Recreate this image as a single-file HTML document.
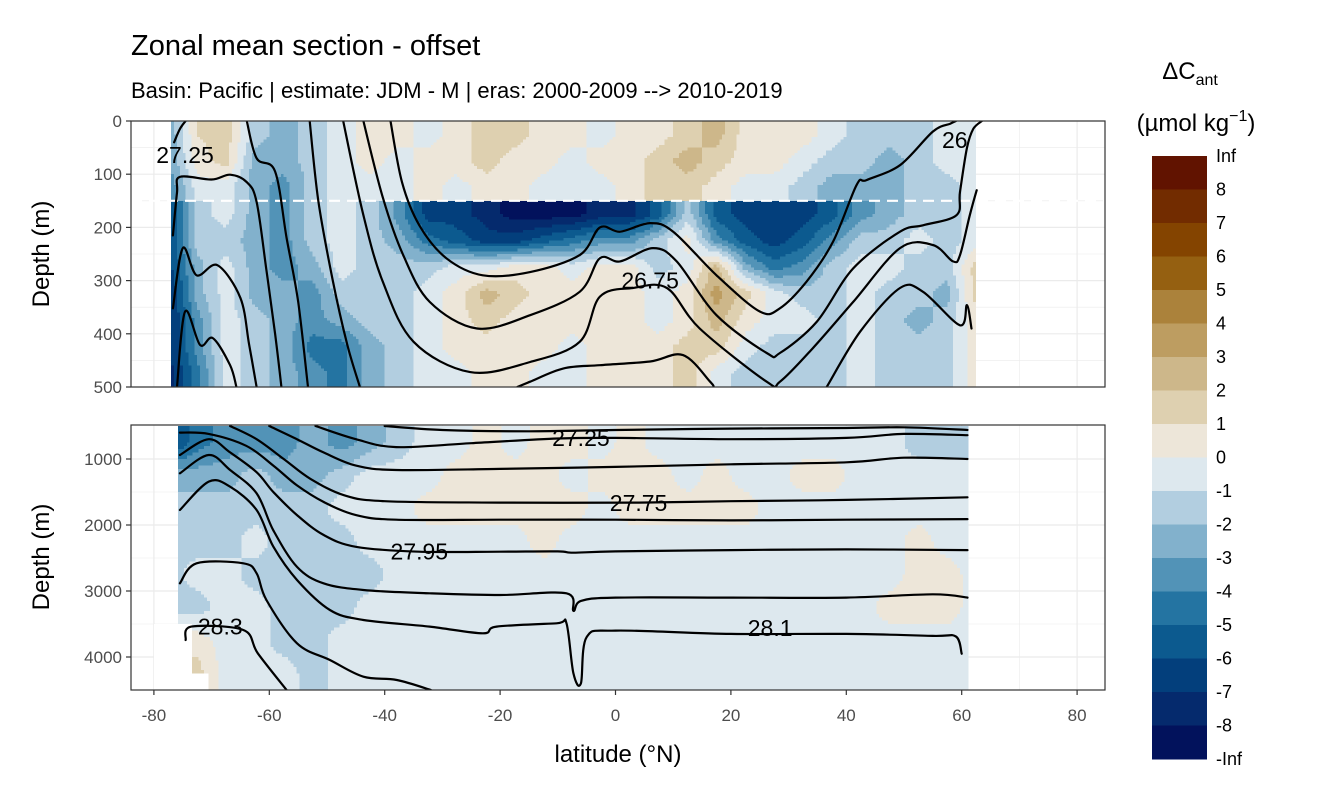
<!DOCTYPE html>
<html><head><meta charset="utf-8">
<style>
html,body{margin:0;padding:0;background:#fff;}
svg{display:block;font-family:"Liberation Sans",Arial,sans-serif;}
</style></head>
<body>
<svg id="chart" width="1344" height="806" viewBox="0 0 1344 806" xmlns="http://www.w3.org/2000/svg">
<defs>
<clipPath id="clipTop"><rect x="131" y="121" width="974" height="266"/></clipPath>
<clipPath id="clipBot"><rect x="131" y="425" width="974" height="265"/></clipPath>
</defs>
<text x="131" y="55" font-size="29" fill="#000">Zonal mean section - offset</text>
<text x="131" y="98" font-size="22" fill="#000">Basin: Pacific | estimate: JDM - M | eras: 2000-2009 --&gt; 2010-2019</text>
<g id="panels"></g>
<text x="618" y="762" font-size="24" text-anchor="middle">latitude (°N)</text>
<text transform="translate(49,254) rotate(-90)" font-size="24" text-anchor="middle">Depth (m)</text>
<text transform="translate(49,557) rotate(-90)" font-size="24" text-anchor="middle">Depth (m)</text>
<g>
<text x="1190" y="79" font-size="24" text-anchor="middle">ΔC<tspan font-size="16" dy="6">ant</tspan></text>
<text x="1196" y="131" font-size="24" text-anchor="middle">(µmol kg<tspan font-size="16" dy="-10">−1</tspan><tspan dy="10">)</tspan></text>
<g id="legendBar"></g>
</g>
</svg>
<script>
// ---------- data ----------
const legendLabels = ["Inf","8","7","6","5","4","3","2","1","0","-1","-2","-3","-4","-5","-6","-7","-8","-Inf"];
const binColors = ["#611300","#722c00","#844400","#956011","#ab823b","#bd9d61","#cdb78a","#ded0b0","#ede6d9","#dde8ee","#b2cee0","#82b1cc","#5293b7","#2474a2","#0c5a8f","#033f7c","#052a6d","#02125c"];
const xTicks = [-80,-60,-40,-20,0,20,40,60,80];
const topYTicks = [0,100,200,300,400,500];
const botYTicks = [1000,2000,3000,4000];
const gridLats = [-77.5,-72.5,-67.5,-62.5,-57.5,-52.5,-47.5,-42.5,-37.5,-32.5,-27.5,-22.5,-17.5,-12.5,-7.5,-2.5,2.5,7.5,12.5,17.5,22.5,27.5,32.5,37.5,42.5,47.5,52.5,57.5,62.5];
const topDepths = [25,75,125,175,225,275,325,375,425,475];
const topVals = [
[-3,1,1.5,-1.5,-2.5,-1.5,-0.5,0.5,0.5,-0.5,0.5,1.5,1.5,0.5,0.5,-0.5,0.5,0.5,1.5,2.5,0.5,0.5,0.5,-0.5,-1.5,-1.5,-1.5,-0.5,-0.5],
[-3,0.5,1.5,-2.5,-2.5,-1.5,-0.5,0.5,-0.5,0.5,0.5,1.5,0.5,0.5,-0.5,0.5,0.5,1.5,2.5,1.5,0.5,0.5,-0.5,-1.5,-1.5,-2.5,-1.5,-0.5,-0.5],
[-4,-0.5,-0.5,-2.5,-3.5,-1.5,-0.5,-0.5,-0.5,0.5,-0.5,0.5,0.5,-0.5,-0.5,-0.5,0.5,1.5,1.5,0.5,-0.5,-0.5,-1.5,-2.5,-2.5,-2.5,-1.5,-1.5,-0.5],
[-6.5,-1.5,-0.5,-2.5,-3.5,-1.5,-0.5,-1.5,-3.5,-6.5,-6.5,-7.5,-8.5,-8.5,-8.5,-7.5,-7.5,-5.5,-1.5,-5.5,-6.5,-6.5,-6.5,-5.5,-3.5,-2.5,-1.5,-1.5,-0.5],
[-6.5,-1.5,-1.5,-2.5,-3.5,-1.5,-0.5,-1.5,-2.5,-4.5,-5.5,-6.5,-6.5,-5.5,-4.5,-3.5,-3.5,-1.5,0.5,-3.5,-5.5,-6.5,-5.5,-3.5,-1.5,-1.5,-0.5,-1.5,-0.5],
[-6.5,-2.5,-0.5,-2.5,-3.5,-2.5,-0.5,-1.5,-1.5,-1.5,-0.5,-0.5,0.5,0.5,-0.5,0.5,0.5,-1.5,-0.5,2.5,-2.5,-4.5,-3.5,-1.5,-0.5,-0.5,-1.5,-1.5,1.5],
[-7.5,-2.5,-0.5,-2.5,-2.5,-3.5,-1.5,-1.5,-1.5,-0.5,0.5,2.5,1.5,0.5,0.5,0.5,0.5,-0.5,0.5,3.5,1.5,-0.5,-1.5,-1.5,-0.5,-1.5,-1.5,-2.5,1.5],
[-7.5,-3.5,-0.5,-1.5,-2.5,-3.5,-2.5,-1.5,-1.5,-0.5,0.5,1.5,0.5,0.5,0.5,0.5,0.5,-0.5,0.5,2.5,0.5,-0.5,-0.5,-1.5,-0.5,-1.5,-2.5,-1.5,0.5],
[-7.5,-3.5,-0.5,-1.5,-2.5,-4.5,-4.5,-2.5,-1.5,-0.5,0.5,0.5,0.5,0.5,-0.5,0.5,0.5,0.5,1.5,1.5,-0.5,-1.5,-1.5,-1.5,-0.5,-1.5,-1.5,-1.5,0.5],
[-7.5,-4.5,-0.5,-1.5,-2.5,-3.5,-4.5,-2.5,-1.5,-0.5,-0.5,0.5,0.5,-0.5,-0.5,0.5,0.5,0.5,1.5,-0.5,-1.5,-1.5,-1.5,-1.5,-0.5,-1.5,-1.5,-1.5,0.5]
];
const botDepths = [750,1250,1750,2250,2750,3250,3750,4250];
const botVals = [
[-6.5,-4.5,-3.5,-3.5,-3.5,-2.5,-3.5,-2.5,-1.5,-0.5,-0.5,0.5,-0.5,0.5,0.5,-0.5,0.5,-0.5,-0.5,-0.5,-0.5,-0.5,-0.5,-0.5,-0.5,-0.5,-1.5,-1.5,-1.5],
[-2.5,-2.5,-2.5,-1.5,-2.5,-2.5,-1.5,-0.5,-0.5,-0.5,0.5,0.5,0.5,0.5,-0.5,0.5,0.5,0.5,-0.5,0.5,-0.5,-0.5,0.5,0.5,-0.5,-0.5,-0.5,-0.5,-0.5],
[-1.5,-1.5,-1.5,-1.5,-1.5,-1.5,-0.5,-0.5,-0.5,0.5,0.5,0.5,0.5,0.5,0.5,-0.5,0.5,0.5,0.5,0.5,0.5,-0.5,-0.5,-0.5,-0.5,-0.5,-0.5,-0.5,-0.5],
[-1.5,-1.5,-1.5,-0.5,-1.5,-1.5,-1.5,-0.5,-0.5,-0.5,-0.5,-0.5,-0.5,0.5,-0.5,-0.5,-0.5,-0.5,-0.5,-0.5,-0.5,-0.5,-0.5,-0.5,-0.5,-0.5,0.5,-0.5,-0.5],
[-1.5,-0.5,-0.5,-1.5,-1.5,-1.5,-1.5,-1.5,-0.5,-0.5,-0.5,-0.5,-0.5,-0.5,-0.5,-0.5,-0.5,-0.5,-0.5,-0.5,-0.5,-0.5,-0.5,-0.5,-0.5,-0.5,0.5,0.5,-0.5],
[-1.5,-1.5,-0.5,-0.5,-1.5,-1.5,-1.5,-0.5,-0.5,-0.5,-0.5,-0.5,-0.5,-0.5,-0.5,-0.5,-0.5,-0.5,-0.5,-0.5,-0.5,-0.5,-0.5,-0.5,-0.5,0.5,0.5,0.5,-0.5],
[0.5,0.5,-0.5,-0.5,-1.5,-1.5,-0.5,-0.5,-0.5,-0.5,-0.5,-0.5,-0.5,-0.5,-0.5,-0.5,-0.5,-0.5,-0.5,-0.5,-0.5,-0.5,-0.5,-0.5,-0.5,-0.5,-0.5,-0.5,-0.5],
[1.5,1.5,-0.5,-0.5,-0.5,-1.5,-0.5,-0.5,-0.5,-0.5,-0.5,-0.5,-0.5,-0.5,-0.5,-0.5,-0.5,-0.5,-0.5,-0.5,-0.5,-0.5,-0.5,-0.5,-0.5,-0.5,-0.5,-0.5,-0.5]
];
const topContours = [
[[-76.5,40],[-75.5,15],[-74.5,0]],
[[-76.7,215],[-76,135],[-75.5,105],[-70,110],[-66.8,101],[-63.9,115],[-62.2,152],[-60.5,280],[-59,400],[-57.9,500]],
[[-76.7,352],[-75,239],[-72.6,290],[-69,271],[-65,333],[-63.5,420],[-62.2,500]],
[[-76,500],[-74.6,358],[-72,421],[-69.8,408],[-66.8,459],[-65.7,500]],
[[-63.9,0],[-62.2,70],[-59,95],[-57,220],[-55,340],[-53.3,500]],
[[-53,0],[-51.5,150],[-49,300],[-46.5,420],[-44.3,500]],
[[-39,0],[-37,115],[-34,196],[-29.3,258],[-23,290],[-14.8,284],[-6.2,252],[-2.7,200],[0.8,208],[6,192],[10,208],[17.5,290],[25,358],[28.5,352],[33.1,302],[37.7,227],[41.8,120],[43.5,111],[49.3,83],[55,20],[58,5],[59,0]],
[[-43.7,0],[-40.3,145],[-36.8,252],[-32.2,340],[-24,390],[-14.8,365],[-6.2,321],[-2.7,258],[0.8,264],[6.5,239],[10.6,264],[17.5,365],[26.2,436],[28.5,436],[34.9,377],[41.2,277],[49.3,208],[53.3,196],[59.1,177],[59.7,133],[60.9,51],[62,15],[63.5,0]],
[[-47.2,0],[-43.7,177],[-40.3,303],[-35,415],[-25.2,472],[-14.8,453],[-6.2,415],[-2.7,330],[3,314],[8.9,314],[14.6,390],[26.2,490],[28.5,490],[34.2,427],[41.2,340],[49.3,239],[55,233],[58.5,264],[59.7,252],[61.4,177],[62.6,130]],
[[-17,500],[-14.8,490],[-9,465],[-2.7,459],[6,452],[11.7,440],[16.4,490],[17,500]],
[[36.6,500],[42.4,396],[49.3,314],[53.3,321],[59.7,384],[60.9,346],[61.7,390]]
];
const botContours = [
[[-40,500],[-30,560],[-15,580],[0,560],[20,540],[40,530],[50,520],[61,560]],
[[-52,500],[-45,700],[-38,820],[-25,760],[-10,690],[0,680],[20,700],[40,680],[50,620],[61,640]],
[[-60,500],[-55.2,700],[-50.6,900],[-45,1100],[-38,1167],[-20,1150],[0,1120],[20,1080],[40,1050],[50,980],[61,1000]],
[[-66.8,500],[-62.2,700],[-57.5,1000],[-52.9,1300],[-47,1550],[-40,1640],[-20,1660],[4,1660],[20,1640],[40,1620],[61,1580]],
[[-75.5,600],[-70.5,620],[-64,800],[-59.3,1100],[-55.2,1400],[-50.6,1650],[-45,1850],[-38,1920],[-20,1920],[0,1920],[20,1930],[40,1920],[61,1910]],
[[-75.5,939],[-70.5,700],[-66.8,900],[-62.2,1200],[-59.3,1500],[-55.2,1850],[-50.6,2150],[-45,2330],[-34,2404],[-20,2404],[-10,2400],[-7.3,2420],[0,2400],[20,2380],[40,2370],[61,2380]],
[[-75.5,1217],[-70.5,939],[-66.8,1167],[-62.2,1520],[-59.3,2080],[-55.2,2635],[-50.6,2884],[-43.7,2985],[-32.2,3035],[-20,3060],[-8.5,3035],[-7.3,3300],[-6,3150],[0,3100],[20,3100],[40,3100],[55,3050],[61,3100]],
[[-75.5,1773],[-70.5,1343],[-66.8,1419],[-62.2,1773],[-59.3,2328],[-55.2,2833],[-49.5,3288],[-43.7,3439],[-32.2,3540],[-23,3641],[-20.6,3540],[-10.2,3490],[-8.5,3490],[-7.3,4247],[-6,4400],[-5,3700],[0,3600],[20,3650],[40,3650],[55,3680],[59,3690],[60,3950]],
[[-75.5,2884],[-72.6,2581],[-64.5,2581],[-62.2,2732],[-60.5,3136],[-55.2,3793],[-49.5,4045],[-43.7,4298],[-37.9,4348],[-32,4500]],
[[-74.5,3742],[-73.5,3540],[-64.5,3591],[-62,3944],[-57,4500]]
];
const topLabels = [["27.25",-74.6,64],["26.75",6,300],["26",58.8,36]];
const botLabels = [["27.25",-6,680],["27.75",4,1667],["27.95",-34,2404],["28.3",-68.5,3540],["28.1",26.8,3560]];
const deepMask = [[-80,3500],[-73.4,3500],[-73.4,4250],[-70.5,4250],[-70.5,4500],[-80,4500]];

// ---------- scales ----------
const NS = "http://www.w3.org/2000/svg";
const xS = lat => 615.5 + lat * 5.77;
const yTop = d => 121 + d * 0.532;
const yBot = d => 690 - (4500 - d) * 0.066;
function mk(tag, attrs, parent){ const e=document.createElementNS(NS,tag); for(const k in attrs) e.setAttribute(k,attrs[k]); if(parent) parent.appendChild(e); return e; }
function colorIdx(v){ let i = 8 - Math.floor(v); return Math.max(0, Math.min(17, i)); }
function sample(vals, depths, lat, d, brk){
  const n = depths.length, step = depths[1]-depths[0];
  let r = (d - depths[0]) / step; r = Math.max(0, Math.min(n-1, r));
  let i0 = Math.floor(r), i1 = Math.min(i0+1, n-1), fr = r - i0;
  if (brk !== null && depths[i0] < brk && depths[i1] > brk){ if (d < brk){ i1 = i0; } else { i0 = i1; } fr = 0; }
  const m = gridLats.length;
  let c = (lat - gridLats[0]) / 5; c = Math.max(0, Math.min(m-1, c));
  const j0 = Math.floor(c), j1 = Math.min(j0+1, m-1), fc = c - j0;
  const g = (i,j) => { const v = vals[i][j]; return v === null ? vals[i][Math.max(0,j-1)] : v; };
  const a = g(i0,j0)*(1-fc) + g(i0,j1)*fc;
  const b = g(i1,j0)*(1-fc) + g(i1,j1)*fc;
  return a*(1-fr) + b*fr;
}

const panelsEl = document.getElementById('panels');

function drawPanel(pname, y0, y1, yScale, yTicks, minorTicks, vals, depths, dMin, dMax, dStep, latMin, latMax, brk, clipId){
  const g = mk('g', {}, panelsEl);
  
  
  mk('rect', {x:131, y:y0, width:974, height:y1-y0, fill:'#fff'}, g);
  const grid = mk('g', {}, g);
  
  
  for (let lat=-90; lat<=90; lat+=10){ const x=xS(lat); if(x<131||x>1105) continue;
    mk('line',{x1:x,x2:x,y1:y0,y2:y1,stroke:'#ebebeb','stroke-width': (lat%20===0)?1.2:0.6},grid); }
  minorTicks.forEach(d=>{ const y=yScale(d); mk('line',{x1:131,x2:1105,y1:y,y2:y,stroke:'#ebebeb','stroke-width':0.6},grid); });
  yTicks.forEach(d=>{ const y=yScale(d); mk('line',{x1:131,x2:1105,y1:y,y2:y,stroke:'#ebebeb','stroke-width':1.2},grid); });
  const field = mk('g', {'clip-path':'url(#'+clipId+')','shape-rendering':'crispEdges'}, g);
  
  
  const latStep = 0.5;
  for (let d=dMin; d<dMax-1e-6; d+=dStep){
    const yA = yScale(d), yB = yScale(d+dStep);
    let runStart = latMin, runCol = null;
    for (let lat=latMin; lat<latMax-1e-6; lat+=latStep){
      const v = sample(vals, depths, Math.min(lat+latStep/2, latMax), d+dStep/2, brk);
      const col = binColors[colorIdx(v)];
      if (runCol === null){ runCol = col; runStart = lat; }
      else if (col !== runCol){
        mk('rect',{x:xS(runStart), y:yA, width:xS(lat)-xS(runStart)+0.6, height:yB-yA+0.6, fill:runCol}, field);
        runCol = col; runStart = lat;
      }
    }
    mk('rect',{x:xS(runStart), y:yA, width:xS(latMax)-xS(runStart), height:yB-yA+0.6, fill:runCol}, field);
  }
  return {g:g, field:field};
}

const topPanel = drawPanel('top-panel', 121, 387, yTop, topYTicks, [50,150,250,350,450], topVals, topDepths, 0, 500, 5, -77, 62.5, 150, 'clipTop');
const botPanel = drawPanel('bottom-panel', 425, 690, yBot, botYTicks, [1500,2500,3500], botVals, botDepths, 500, 4500, 50, -75.8, 61.2, null, 'clipBot');

const maskEl = mk('polygon', {points: deepMask.map(p=>xS(p[0])+','+yBot(p[1])).join(' '), fill:'#fff'}, botPanel.field);



const dashEl = mk('line', {x1:131, x2:1105, y1:yTop(150), y2:yTop(150), stroke:'#fff', 'stroke-width':2.2, 'stroke-dasharray':'11,7'}, topPanel.g);



function smoothPath(P){
  if (P.length < 3) return 'M' + P.map(p=>p[0].toFixed(1)+','+p[1].toFixed(1)).join(' L');
  let s = 'M' + P[0][0].toFixed(1) + ',' + P[0][1].toFixed(1);
  for (let i=0;i<P.length-1;i++){
    const p0=P[Math.max(0,i-1)], p1=P[i], p2=P[i+1], p3=P[Math.min(P.length-1,i+2)];
    const c1=[p1[0]+(p2[0]-p0[0])/6, p1[1]+(p2[1]-p0[1])/6];
    const c2=[p2[0]-(p3[0]-p1[0])/6, p2[1]-(p3[1]-p1[1])/6];
    s += ' C'+c1[0].toFixed(1)+','+c1[1].toFixed(1)+' '+c2[0].toFixed(1)+','+c2[1].toFixed(1)+' '+p2[0].toFixed(1)+','+p2[1].toFixed(1);
  }
  return s;
}

function drawContours(panel, list, yScale, clipId, labels, prefix){
  const cg = mk('g', {'clip-path':'url(#'+clipId+')'}, panel.g);
  
  
  list.forEach(pts=>{
    const P = pts.map(q=>[xS(q[0]), yScale(q[1])]);
    const p = mk('path', {d: smoothPath(P), fill:'none', stroke:'#000', 'stroke-width':2.2, 'stroke-linejoin':'round', 'stroke-linecap':'round'}, cg);
    
    
  });
  labels.forEach(l=>{
    const t = mk('text', {x:xS(l[1]), y:yScale(l[2])+8, 'font-size':23, 'text-anchor':'middle', fill:'#000'}, cg);
    t.textContent = l[0];
    
    
  });
}
drawContours(topPanel, topContours, yTop, 'clipTop', topLabels, 'top');
drawContours(botPanel, botContours, yBot, 'clipBot', botLabels, 'bottom');

[[121,387],[425,690]].forEach((r,i)=>{
  const b = mk('rect', {x:131, y:r[0], width:974, height:r[1]-r[0], fill:'none', stroke:'#333', 'stroke-width':1.2}, panelsEl);
  
  
});

const axg = mk('g', {}, panelsEl);


topYTicks.forEach(d=>{ const y=yTop(d);
  mk('line',{x1:126,x2:131,y1:y,y2:y,stroke:'#333','stroke-width':1.2},axg);
  const t=mk('text',{x:122,y:y+6,'font-size':17,'text-anchor':'end',fill:'#4d4d4d'},axg); t.textContent=d;
  
   });
botYTicks.forEach(d=>{ const y=yBot(d);
  mk('line',{x1:126,x2:131,y1:y,y2:y,stroke:'#333','stroke-width':1.2},axg);
  const t=mk('text',{x:122,y:y+6,'font-size':17,'text-anchor':'end',fill:'#4d4d4d'},axg); t.textContent=d;
  
   });
xTicks.forEach(lat=>{ const x=xS(lat);
  mk('line',{x1:x,x2:x,y1:690,y2:695,stroke:'#333','stroke-width':1.2},axg);
  const t=mk('text',{x:x,y:721,'font-size':17,'text-anchor':'middle',fill:'#4d4d4d'},axg); t.textContent=lat;
  
   });

const lb = document.getElementById('legendBar');
const barTop = 156, binH = 33.5;
binColors.forEach((c,i)=>{
  const r = mk('rect', {x:1152, y:barTop+i*binH, width:55, height:binH+0.5, fill:c, 'shape-rendering':'crispEdges'}, lb);
  
  
});
legendLabels.forEach((s,i)=>{
  const t = mk('text', {x:1216, y:barTop+i*binH+6, 'font-size':18, fill:'#000'}, lb);
  t.textContent = s;
  
  
});
</script>
</body></html>
